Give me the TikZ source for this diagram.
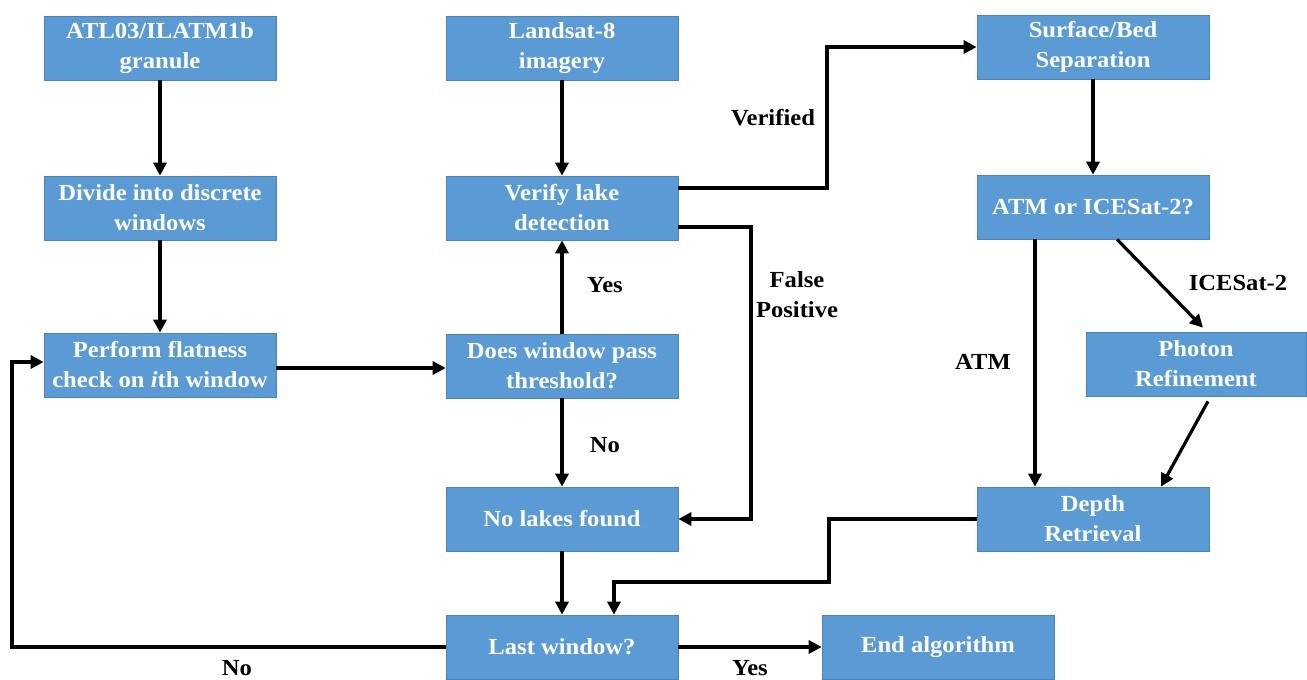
\documentclass[tikz,border=0pt]{standalone}
\usepackage{fontspec}
\setmainfont{Liberation Serif}[FakeStretch=1.07]
\usetikzlibrary{arrows.meta}
\definecolor{boxfill}{HTML}{5B9BD5}
\definecolor{boxedge}{HTML}{4A84C0}
\begin{document}
\begin{tikzpicture}[x=1pt,y=-1pt,
  box/.style={draw=boxedge, fill=boxfill, line width=0.7pt, text=white,
    font=\fontsize{23}{30}\selectfont\bfseries, align=center, inner sep=0pt,
    minimum width=232pt, minimum height=64pt},
  arr/.style={line width=3.2pt, -{Triangle[length=13pt,width=13pt]}},
  lbl/.style={font=\fontsize{23}{30}\selectfont\bfseries, align=center, inner sep=0pt}]
\useasboundingbox (0,0) rectangle (1307,680);
% boxes
\node[box] (atl) at (160,48) {ATL03/ILATM1b\\granule};
\node[box] (land) at (562,48) {Landsat-8\\imagery};
\node[box] (surf) at (1093,47) {Surface/Bed\\Separation};
\node[box] (div) at (160,208) {Divide into discrete\\windows};
\node[box] (ver) at (562,208) {Verify lake\\detection};
\node[box] (atm) at (1093,207) {ATM or ICESat-2?};
\node[box] (perf) at (160,365) {Perform flatness\\check on \textit{i}th window};
\node[box] (does) at (562,366) {Does window pass\\threshold?};
\node[box, minimum width=220pt] (phot) at (1196,364) {Photon\\Refinement};
\node[box] (nol) at (562,519) {No lakes found};
\node[box] (dep) at (1093,519) {Depth\\Retrieval};
\node[box] (last) at (562,647) {Last window?};
\node[box] (endalg) at (938,647) {End algorithm};
% helper coordinates
\coordinate (c1) at (827,120);
\coordinate (c2) at (751,400);
\coordinate (c4) at (829,582);
\coordinate (c6) at (12,500);
% connectors
\draw[arr] (atl) -- (div);
\draw[arr] (div) -- (perf);
\draw[arr] (land) -- (ver);
\draw[arr] ([yshift=-3pt]perf.east) -- ([yshift=-3pt]perf.east -| does.west);
\draw[arr] (does) -- (ver);
\draw[arr] (does) -- (nol);
\draw[arr] (nol) -- (last);
\draw[arr] ([yshift=20pt]ver.east) -| (c1) |- (surf.west);
\draw[arr] ([yshift=-19pt]ver.east) -| (c2) |- (nol.east);
\draw[arr] (surf) -- (atm);
\draw[arr] ([xshift=-58pt]atm.south) -- ([xshift=-58pt]dep.north);
\draw[arr] ([xshift=24pt]atm.south) -- ([xshift=7pt,yshift=4pt]phot.north);
\draw[arr] ([xshift=12pt,yshift=-5pt]phot.south) -- ([xshift=68pt]dep.north);
\draw[arr] (dep.west) -| (c4) -| ([xshift=52pt]last.north);
\draw[arr] (last.east) -- (endalg.west);
\draw[arr] (last.west) -| (c6) |- ([yshift=3pt]perf.west);
% labels
\node[lbl] (lv) at (773,118) {Verified};
\node[lbl] (lfp) at (797,295) {False\\Positive};
\node[lbl] (lyes1) at (605,285) {Yes};
\node[lbl] (lno1) at (605,445) {No};
\node[lbl] (lno2) at (237,668) {No};
\node[lbl] (lyes2) at (750,668) {Yes};
\node[lbl] (latm) at (983,362) {ATM};
\node[lbl] (lice) at (1238,283) {ICESat-2};
\end{tikzpicture}
\end{document}
